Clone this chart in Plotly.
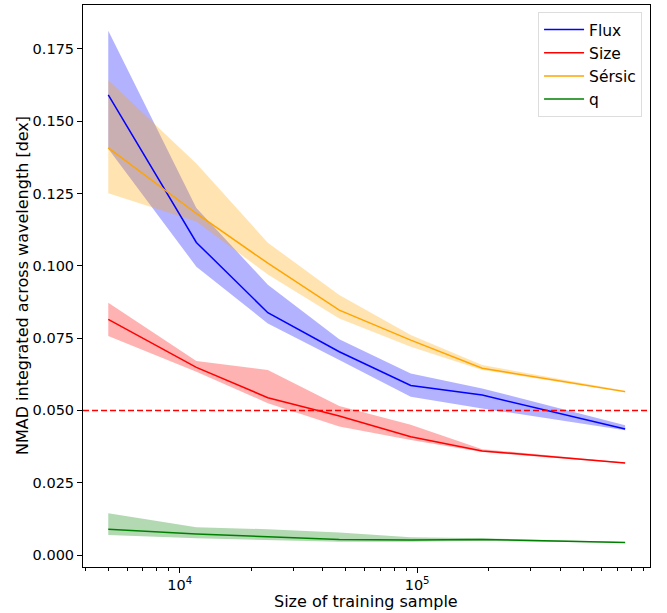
import plotly.graph_objects as go

# training sample sizes
train_size = [5000, 11750, 23500, 47000, 94000, 188000, 752000]

flux_mid = [0.1591, 0.1081, 0.0838, 0.0703, 0.0586, 0.0553, 0.0436]
flux_hi = [0.1813, 0.1200, 0.0935, 0.0746, 0.0628, 0.0576, 0.0449]
flux_lo = [0.1405, 0.0997, 0.0801, 0.0674, 0.0547, 0.0507, 0.0431]

size_mid = [0.0815, 0.0649, 0.0544, 0.0481, 0.0409, 0.0360, 0.0318]
size_hi = [0.0872, 0.0671, 0.0640, 0.0515, 0.0450, 0.0366, 0.0320]
size_lo = [0.0757, 0.0634, 0.0525, 0.0444, 0.0398, 0.0356, 0.0316]

sersic_mid = [0.1408, 0.1181, 0.1009, 0.0847, 0.0743, 0.0646, 0.0565]
sersic_hi = [0.1642, 0.1354, 0.1080, 0.0899, 0.0761, 0.0657, 0.0568]
sersic_lo = [0.1251, 0.1153, 0.0970, 0.0818, 0.0720, 0.0640, 0.0562]

q_mid = [0.0089, 0.0073, 0.0063, 0.0054, 0.0052, 0.0054, 0.0043]
q_hi = [0.0144, 0.0096, 0.0089, 0.0078, 0.0061, 0.0058, 0.0045]
q_lo = [0.0069, 0.0058, 0.0052, 0.0046, 0.0046, 0.0049, 0.0042]

threshold = 0.05

series = [
    ("Flux", flux_mid, flux_hi, flux_lo, "blue", "rgba(0,0,255,0.3)"),
    ("Size", size_mid, size_hi, size_lo, "red", "rgba(255,0,0,0.3)"),
    ("Sérsic", sersic_mid, sersic_hi, sersic_lo, "orange", "rgba(255,165,0,0.3)"),
    ("q", q_mid, q_hi, q_lo, "green", "rgba(0,128,0,0.3)"),
]

fig = go.Figure()
for name, mid, hi, lo, col, fcol in series:
    fig.add_trace(go.Scatter(
        x=train_size + train_size[::-1], y=hi + lo[::-1],
        fill="toself", fillcolor=fcol, line=dict(width=0), mode="lines",
        showlegend=False, hoverinfo="skip"))
for name, mid, hi, lo, col, fcol in series:
    fig.add_trace(go.Scatter(
        x=train_size, y=mid, mode="lines", name=name,
        line=dict(color=col, width=1.5)))

fig.add_shape(type="line", xref="paper", x0=0, x1=1, yref="y", y0=threshold, y1=threshold,
              line=dict(color="red", width=1.5, dash="6px,3px"))

font = "DejaVu Sans, sans-serif"
fig.add_annotation(text="Size of training sample", xref="paper", yref="paper",
                   x=0.4995, y=0, yshift=-34, xanchor="center", yanchor="middle",
                   showarrow=False, font=dict(size=16, family=font, color="black"))
fig.add_annotation(text="NMAD integrated across wavelength [dex]", xref="paper", yref="paper",
                   x=0, xshift=-61, y=0.5, xanchor="center", yanchor="middle", textangle=-90,
                   showarrow=False, font=dict(size=16, family=font, color="black"))

minor_vals = [m * 10 ** e for e in (3, 4, 5) for m in range(2, 10)]
fig.update_layout(
    width=667, height=613,
    margin=dict(l=83, r=17, t=5, b=46),
    plot_bgcolor="white", paper_bgcolor="white",
    font=dict(family=font, size=14.5, color="black"),
    showlegend=True,
    legend=dict(x=0.986, y=0.9875, xanchor="right", yanchor="top",
                bgcolor="rgba(255,255,255,0.8)", bordercolor="#dddddd", borderwidth=1,
                itemwidth=40,
                font=dict(size=15.5, family=font), tracegroupgap=0),
    xaxis=dict(
        type="log", range=[3.5925, 5.981], automargin=False,
        tickvals=[1e4, 1e5], ticktext=["10<sup>4</sup>", "10<sup>5</sup>"],
        ticks="outside", ticklen=5, tickcolor="black",
        showgrid=False, zeroline=False,
        showline=True, linecolor="black", linewidth=1, mirror=True,
        minor=dict(tickvals=minor_vals, ticks="outside", ticklen=3, tickcolor="black", showgrid=False),
    ),
    yaxis=dict(
        range=[-0.00415, 0.1902], automargin=False,
        tickvals=[0, 0.025, 0.05, 0.075, 0.1, 0.125, 0.15, 0.175],
        tickformat=".3f",
        ticks="outside", ticklen=5, tickcolor="black",
        showgrid=False, zeroline=False,
        showline=True, linecolor="black", linewidth=1, mirror=True,
    ),
)

fig.write_html("out.html", config={"displayModeBar": False},
               post_script="document.body.style.margin='0';")
